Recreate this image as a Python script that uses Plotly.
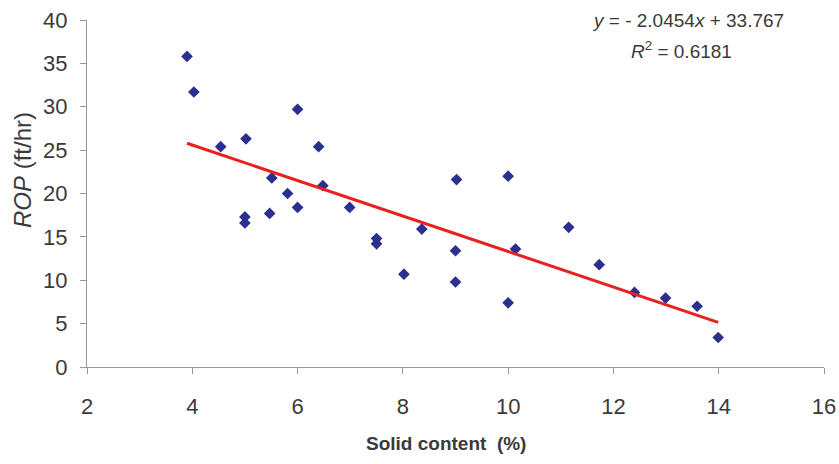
import plotly.graph_objects as go

solid_content = [3.9, 4.03, 4.54, 5.02, 5.0, 5.0, 5.51, 5.47, 5.81, 6.0, 6.0, 6.4, 6.48,
                 6.99, 7.5, 7.5, 8.02, 8.36, 9.02, 9.0, 9.0, 10.0, 10.0, 10.14, 11.15,
                 11.73, 12.4, 12.99, 13.59, 13.99]
rop = [35.8, 31.7, 25.4, 26.3, 17.3, 16.6, 21.8, 17.7, 20.0, 29.7, 18.4, 25.4, 20.9,
       18.4, 14.8, 14.2, 10.7, 15.9, 21.6, 13.4, 9.8, 22.0, 7.4, 13.6, 16.1,
       11.8, 8.6, 7.95, 7.0, 3.4]
slope = -2.0454
intercept = 33.767
fit_x = [min(solid_content), max(solid_content)]
fit_y = [slope * v + intercept for v in fit_x]

x_ticks = [2, 4, 6, 8, 10, 12, 14, 16]
y_ticks = [0, 5, 10, 15, 20, 25, 30, 35, 40]

FONT = "Liberation Sans, Arial, sans-serif"
TXT = "#3a3a3a"

fig = go.Figure()
fig.add_trace(go.Scatter(x=solid_content, y=rop, mode="markers",
                         marker=dict(symbol="diamond", size=9, color="#2B2F8F"),
                         showlegend=False))
fig.add_trace(go.Scatter(x=fit_x, y=fit_y, mode="lines",
                         line=dict(color="#E8201E", width=3), showlegend=False))

fig.update_layout(
    width=839, height=464,
    margin=dict(l=87, r=15, t=20, b=97),
    paper_bgcolor="white", plot_bgcolor="white",
    font=dict(family=FONT, color=TXT),
    xaxis=dict(range=[2, 16], tickvals=x_ticks, showgrid=False, zeroline=False,
               showline=True, linecolor="#999999", linewidth=1,
               ticks="outside", ticklen=6, tickcolor="#999999", automargin=False,
               ticklabeloverflow="allow",
               tickfont=dict(size=22, color=TXT), ticklabelstandoff=14),
    yaxis=dict(range=[0, 40], tickvals=y_ticks, showgrid=False, zeroline=False,
               showline=True, linecolor="#999999", linewidth=1,
               ticks="outside", ticklen=6, tickcolor="#999999", automargin=False,
               ticklabeloverflow="allow",
               tickfont=dict(size=22, color=TXT), ticklabelstandoff=8),
    annotations=[
        dict(text="<i>ROP</i> (ft/hr)", xref="paper", yref="paper",
             x=(22 - 87) / 737.0, y=(367 - 170) / 347.0, textangle=-90,
             showarrow=False, font=dict(size=24, color=TXT),
             xanchor="center", yanchor="middle"),
        dict(text="<b>Solid content  (%)</b>", xref="paper", yref="paper",
             x=(446 - 87) / 737.0, y=(367 - 443) / 347.0,
             showarrow=False, font=dict(size=19, color=TXT),
             xanchor="center", yanchor="middle"),
        dict(text="<i>y</i> = - 2.0454<i>x</i> + 33.767", xref="paper", yref="paper",
             x=(688 - 87) / 737.0, y=(367 - 20) / 347.0,
             showarrow=False, font=dict(size=19, color=TXT),
             xanchor="center", yanchor="middle"),
        dict(text="<i>R</i><sup>2</sup> = 0.6181", xref="paper", yref="paper",
             x=(681 - 87) / 737.0, y=(367 - 50) / 347.0,
             showarrow=False, font=dict(size=19, color=TXT),
             xanchor="center", yanchor="middle"),
    ],
)

fig.write_html(
    "out.html",
    config={"displayModeBar": False},
    post_script="document.body.style.margin='0';document.body.style.overflow='hidden';",
)
